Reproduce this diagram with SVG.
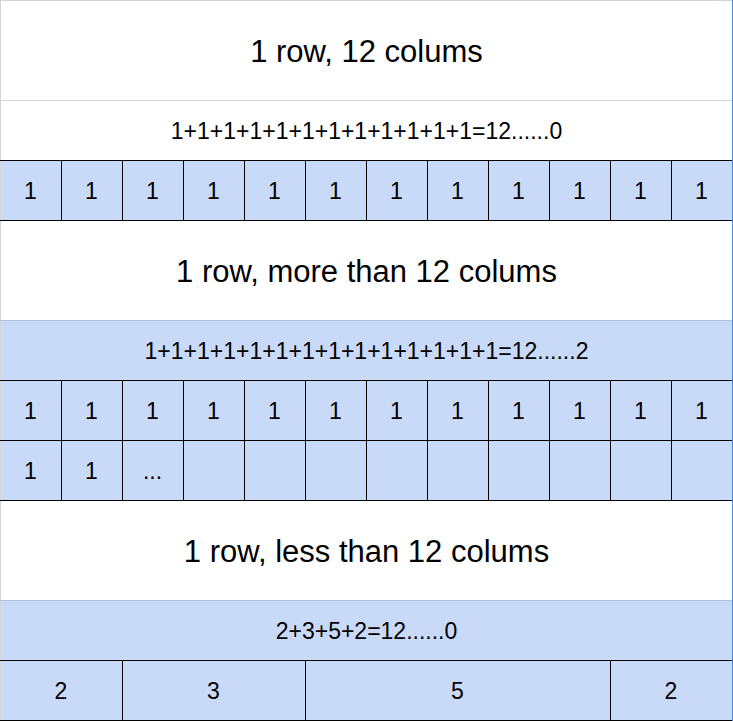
<svg xmlns="http://www.w3.org/2000/svg" width="733" height="721" viewBox="0 0 733 721">
<style>
.bg{fill:#ffffff}
.fill{fill:#c9daf8}
.t{font-family:"Liberation Sans",Arial,sans-serif;fill:#000;text-anchor:middle}
.title{font-size:31px}
.f{font-size:23px}
.c{font-size:23px}
.blk{stroke:#000;stroke-width:1;fill:none}
.gray{stroke:#d4d4d4;stroke-width:1;fill:none}
.bgray{stroke:#b3c3df;stroke-width:1;fill:none}
.edge{stroke:#4a86e8;stroke-width:1;fill:none}
</style>
<rect class="bg" x="0" y="0" width="733" height="721"/>

<g id="title1"><text class="t title" x="366.5" y="62">1 row, 12 colums</text></g>
<g id="formula1"><text class="t f" x="366.5" y="139">1+1+1+1+1+1+1+1+1+1+1+1=12......0</text></g>

<g id="row1">
<rect class="fill" x="0" y="160" width="733" height="60"/>
<g id="r1c1"><text class="t c" x="30.5" y="198.5">1</text></g>
<g id="r1c2"><text class="t c" x="91.5" y="198.5">1</text></g>
<g id="r1c3"><text class="t c" x="152.5" y="198.5">1</text></g>
<g id="r1c4"><text class="t c" x="213.5" y="198.5">1</text></g>
<g id="r1c5"><text class="t c" x="274.5" y="198.5">1</text></g>
<g id="r1c6"><text class="t c" x="335.5" y="198.5">1</text></g>
<g id="r1c7"><text class="t c" x="396.5" y="198.5">1</text></g>
<g id="r1c8"><text class="t c" x="457.5" y="198.5">1</text></g>
<g id="r1c9"><text class="t c" x="518.5" y="198.5">1</text></g>
<g id="r1c10"><text class="t c" x="579.5" y="198.5">1</text></g>
<g id="r1c11"><text class="t c" x="640.5" y="198.5">1</text></g>
<g id="r1c12"><text class="t c" x="701.5" y="198.5">1</text></g>
</g>

<g id="title2"><text class="t title" x="366.5" y="282">1 row, more than 12 colums</text></g>
<g id="formula2">
<rect class="fill" x="0" y="320" width="733" height="60"/>
<text class="t f" x="366.5" y="359">1+1+1+1+1+1+1+1+1+1+1+1+1+1=12......2</text>
</g>

<g id="row2">
<rect class="fill" x="0" y="380" width="733" height="60"/>
<g id="r2c1"><text class="t c" x="30.5" y="418.5">1</text></g>
<g id="r2c2"><text class="t c" x="91.5" y="418.5">1</text></g>
<g id="r2c3"><text class="t c" x="152.5" y="418.5">1</text></g>
<g id="r2c4"><text class="t c" x="213.5" y="418.5">1</text></g>
<g id="r2c5"><text class="t c" x="274.5" y="418.5">1</text></g>
<g id="r2c6"><text class="t c" x="335.5" y="418.5">1</text></g>
<g id="r2c7"><text class="t c" x="396.5" y="418.5">1</text></g>
<g id="r2c8"><text class="t c" x="457.5" y="418.5">1</text></g>
<g id="r2c9"><text class="t c" x="518.5" y="418.5">1</text></g>
<g id="r2c10"><text class="t c" x="579.5" y="418.5">1</text></g>
<g id="r2c11"><text class="t c" x="640.5" y="418.5">1</text></g>
<g id="r2c12"><text class="t c" x="701.5" y="418.5">1</text></g>
</g>

<g id="row3">
<rect class="fill" x="0" y="440" width="733" height="60"/>
<g id="r3c1"><text class="t c" x="30.5" y="478.5">1</text></g>
<g id="r3c2"><text class="t c" x="91.5" y="478.5">1</text></g>
<g id="r3c3"><text class="t c" x="152.5" y="478.5">...</text></g>
</g>

<g id="title3"><text class="t title" x="366.5" y="562">1 row, less than 12 colums</text></g>
<g id="formula3">
<rect class="fill" x="0" y="600" width="733" height="60"/>
<text class="t f" x="366.5" y="639">2+3+5+2=12......0</text>
</g>

<g id="row4">
<rect class="fill" x="0" y="660" width="733" height="60"/>
<g id="r4c1"><text class="t c" x="61" y="698.5">2</text></g>
<g id="r4c2"><text class="t c" x="213.5" y="698.5">3</text></g>
<g id="r4c3"><text class="t c" x="457.5" y="698.5">5</text></g>
<g id="r4c4"><text class="t c" x="671" y="698.5">2</text></g>
</g>

<g id="connectors">
<path class="gray" d="M0 0.5H733M0.5 0V721M0 100.5H732"/>
<path class="bgray" d="M0 320.5H732M0 600.5H732"/>
<path class="blk" d="M0 160.5H732M0 220.5H732M0 380.5H732M0 440.5H732M0 500.5H732M0 660.5H732M0 720.5H732"/>
<path class="blk" d="M61.5 160V221M122.5 160V221M183.5 160V221M244.5 160V221M305.5 160V221M366.5 160V221M427.5 160V221M488.5 160V221M549.5 160V221M610.5 160V221M671.5 160V221"/>
<path class="blk" d="M61.5 380V501M122.5 380V501M183.5 380V501M244.5 380V501M305.5 380V501M366.5 380V501M427.5 380V501M488.5 380V501M549.5 380V501M610.5 380V501M671.5 380V501"/>
<path class="blk" d="M122.5 660V721M305.5 660V721M610.5 660V721"/>
<path class="edge" d="M732.5 0V721"/>
</g>
</svg>
